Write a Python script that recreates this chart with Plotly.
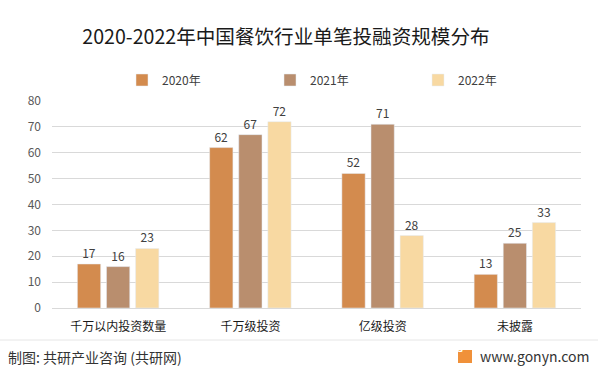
import plotly.graph_objects as go

categories = ["千万以内投资数量", "千万级投资", "亿级投资", "未披露"]
series_names = ["2020年", "2021年", "2022年"]
values_2020 = [17, 62, 52, 13]
values_2021 = [16, 67, 71, 25]
values_2022 = [23, 72, 28, 33]
y_ticks = [0, 10, 20, 30, 40, 50, 60, 70, 80]

colors = ["#D38B4E", "#B98E6E", "#F8D9A2"]
font_family = "Microsoft YaHei, Noto Sans CJK SC, sans-serif"

PL, PT, PW, PH = 52, 101, 529, 207  # plot area in pixels


def px(x):
    return (x - PL) / PW


def py(y):
    return (PT + PH - y) / PH


fig = go.Figure()
for name, vals, col in zip(series_names, [values_2020, values_2021, values_2022], colors):
    fig.add_trace(go.Bar(
        x=categories, y=vals, name=name, marker_color=col,
        text=vals, textposition="outside",
        textfont=dict(size=12, color="#404040", family=font_family),
        cliponaxis=False,
    ))

fig.update_layout(
    width=598, height=373,
    margin=dict(l=PL, r=598 - PL - PW, t=PT, b=373 - PT - PH),
    paper_bgcolor="white", plot_bgcolor="white",
    font=dict(family=font_family),
    barmode="group", bargap=0.34, bargroupgap=0.2,
    title=dict(text="2020-2022年中国餐饮行业单笔投融资规模分布", x=286 / 598, xanchor="center",
               y=1 - 37 / 373, yanchor="middle", font=dict(size=19.6, color="#1a1a1a")),
    legend=dict(orientation="h", x=px(122), xanchor="left", y=py(80), yanchor="middle",
                font=dict(size=12, color="#404040"), entrywidth=103, entrywidthmode="pixels",
                itemwidth=30, traceorder="normal"),
    showlegend=True,
    xaxis=dict(showline=True, linecolor="#d9d9d9", tickfont=dict(size=12, color="#1a1a1a"),
               ticks="", fixedrange=True, ticklabelstandoff=8),
    yaxis=dict(range=[0, 80], tickvals=y_ticks, showgrid=True, gridcolor="#d9d9d9",
               tickfont=dict(size=12, color="#595959"), zeroline=False, ticks="",
               ticklabelstandoff=10, fixedrange=True),
)

# footer
fig.add_shape(type="line", xref="paper", yref="paper", x0=px(0), x1=px(598),
              y0=py(340), y1=py(340), line=dict(color="#e6e6e6", width=1))
fig.add_annotation(text="制图: 共研产业咨询 (共研网)", xref="paper", yref="paper",
                   x=px(6), y=py(357), xanchor="left", yanchor="middle", showarrow=False,
                   font=dict(size=14, color="#333333"))
fig.add_annotation(text="www.gonyn.com", xref="paper", yref="paper",
                   x=px(591), y=py(356), xanchor="right", yanchor="middle", showarrow=False,
                   font=dict(size=14, color="#333333"))
fig.add_shape(type="rect", xref="paper", yref="paper", x0=px(458), x1=px(472),
              y0=py(363), y1=py(350), fillcolor="#F0913A", line=dict(width=0))
fig.add_annotation(text="<b>G</b>", xref="paper", yref="paper", x=px(465), y=py(356.5),
                   showarrow=False, font=dict(size=10, color="white"))

fig.write_html("out.html", config={"displayModeBar": False},
               post_script="document.body.style.margin='0';")
